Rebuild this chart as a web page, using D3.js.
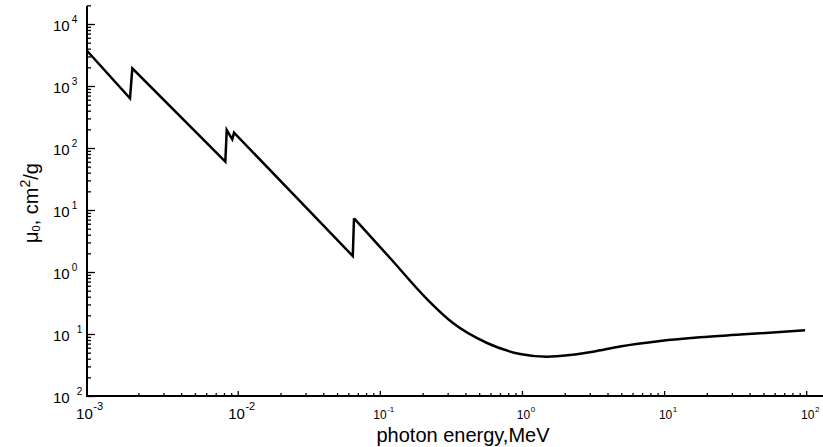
<!DOCTYPE html>
<html>
<script src="https://d3js.org/d3.v7.min.js"></script>
<style>
  body { margin: 0; background: white; }
  text { font-family: "Liberation Sans", Arial, sans-serif; fill: black; }
</style>
<body>
<svg width="823" height="447"></svg>
<script>
// attenuation curve (MeV, cm2/g)
var energy = [8.70e-4, 1.746e-3, 1.813e-3, 8.18e-3, 8.37e-3, 9.16e-3, 9.42e-3, 0.0645, 0.0658,
              0.118, 0.218, 0.327, 0.568, 0.970, 1.50, 2.18, 3.16, 4.90, 9.38, 17.9, 34.3, 98.2];
var mu = [3707, 633, 1930, 60.1, 195, 138, 177, 1.81, 7.35,
          1.68, 0.353, 0.150, 0.0716, 0.0476, 0.0430, 0.0458, 0.0518, 0.0629, 0.0771, 0.0885, 0.0978, 0.1148];
var edgePart = 9; // first points are the absorption edges, drawn straight

var xTicks = [1e-3, 1e-2, 1e-1, 1e0, 1e1, 1e2];
var xExp = ["-3", "-2", "-1", "0", "1", "2"];
var yTicks = [1e-2, 1e-1, 1e0, 1e1, 1e2, 1e3, 1e4];
var yExp = ["2", "1", "0", "1", "2", "3", "4"];
var yNeg = [true, true, false, false, false, false, false];

var svg = d3.select("svg");

var x = d3.scaleLog().domain([1e-3, 1e2]).range([95.6, 806.2]);
var y = d3.scaleLog().domain([1e-2, 1e4]).range([396, 24]);

var left = 87, bottom = 396;

// minor ticks
var xMinor = [], yMinor = [];
for (var e = -3; e <= 2; e++) {
  for (var k = 2; k <= 9; k++) {
    var v = k * Math.pow(10, e);
    if (x(v) < 823) xMinor.push(v);
  }
}
for (var e = -2; e <= 4; e++) {
  for (var k = 2; k <= 9; k++) {
    var v = k * Math.pow(10, e);
    if (y(v) >= 5) yMinor.push(v);
  }
}

function tidy(g) {
  g.select(".domain").remove();
  g.selectAll(".tick line").attr("stroke", "black").attr("stroke-width", 1.3);
}

svg.append("g").attr("transform", "translate(0," + bottom + ")")
  .call(d3.axisBottom(x).tickValues(xMinor).tickSize(-3).tickFormat(""))
  .call(tidy);
svg.append("g").attr("transform", "translate(0," + bottom + ")")
  .call(d3.axisBottom(x).tickValues(xTicks.slice(1)).tickSize(-5).tickFormat(""))
  .call(tidy);
svg.append("g").attr("transform", "translate(" + left + ",0)")
  .call(d3.axisLeft(y).tickValues(yMinor).tickSize(-4).tickFormat(""))
  .call(tidy);
svg.append("g").attr("transform", "translate(" + left + ",0)")
  .call(d3.axisLeft(y).tickValues(yTicks).tickSize(-8).tickFormat(""))
  .call(tidy);

// axis lines
svg.append("line").attr("x1", left).attr("x2", left).attr("y1", 6).attr("y2", bottom + 1)
  .attr("stroke", "black").attr("stroke-width", 2);
svg.append("line").attr("x1", left - 1).attr("x2", 823).attr("y1", bottom).attr("y2", bottom)
  .attr("stroke", "black").attr("stroke-width", 2);

// y tick labels
yTicks.forEach(function(t, i) {
  var lab = svg.append("text").attr("x", 53).attr("y", y(t) + 6.5).style("font-size", "15px");
  lab.append("tspan").text("10");
  lab.append("tspan").attr("dx", yNeg[i] ? 7 : 2).attr("dy", -8)
    .style("font-size", "10px").text(yExp[i]);
});

// x tick labels
xTicks.forEach(function(t, i) {
  var big = i < 2;
  var lab = svg.append("text").attr("x", x(t) + (i == 0 ? -6 : 4))
    .attr("y", big ? 419 : 418.5)
    .attr("text-anchor", "middle")
    .style("font-size", big ? "15px" : "12px");
  lab.append("tspan").text("10");
  lab.append("tspan").attr("dx", 0.5).attr("dy", big ? -9 : -7)
    .style("font-size", big ? "11px" : "8px").text(xExp[i]);
});

// titles
svg.append("text").attr("x", 463).attr("y", 441.5).attr("text-anchor", "middle")
  .style("font-size", "20px").text("photon energy,MeV");

var yt = svg.append("text").attr("transform", "translate(38,203) rotate(-90)")
  .attr("text-anchor", "middle").style("font-size", "20px");
yt.append("tspan").text("\u03bc");
yt.append("tspan").attr("dy", 2).style("font-size", "11px").text("0");
yt.append("tspan").attr("dy", -2).text(", cm");
yt.append("tspan").attr("dy", -8).style("font-size", "14px").text("2");
yt.append("tspan").attr("dy", 8).text("/g");

// curve
var pts = energy.map(function(d, i) { return [d, mu[i]]; });

var line = d3.line().x(function(d) { return x(d[0]); }).y(function(d) { return y(d[1]); });

svg.append("path").datum(pts.slice(0, edgePart))
  .attr("d", line.curve(d3.curveLinear))
  .attr("fill", "none").attr("stroke", "black").attr("stroke-width", 2.5)
  .attr("stroke-linejoin", "miter");
svg.append("path").datum(pts.slice(edgePart - 1))
  .attr("d", line.curve(d3.curveMonotoneX))
  .attr("fill", "none").attr("stroke", "black").attr("stroke-width", 2.5);
</script>
</body>
</html>
